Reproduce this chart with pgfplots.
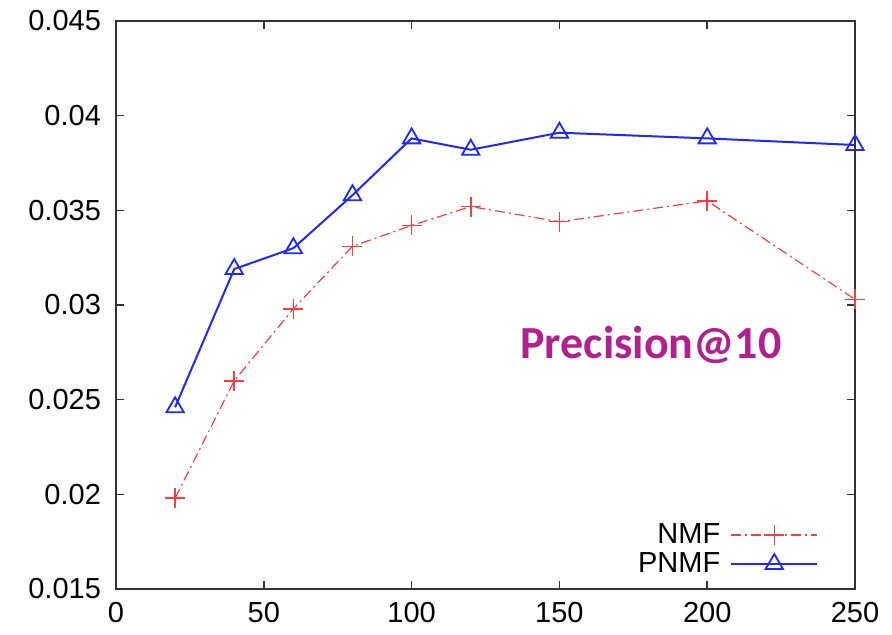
\documentclass[border=0pt]{standalone}
\usepackage{fontspec}
\setmainfont{Liberation Sans}
\newfontfamily\calib{Carlito}
\usepackage{pgfplots}
\pgfplotsset{compat=1.18}
\definecolor{nmfred}{RGB}{255,60,60}
\definecolor{pnmfblue}{RGB}{30,40,255}
\definecolor{labpurple}{RGB}{176,32,143}

\begin{document}
\begin{tikzpicture}
\begin{axis}[scale only axis,width=369.5pt,height=284pt,
  xmin=0,xmax=250,ymin=0.015,ymax=0.045,
  scaled y ticks=false,
  xtick={0,50,100,150,200,250},
  ytick={0.015,0.02,0.025,0.03,0.035,0.04,0.045},
  yticklabels={0.015,0.02,0.025,0.03,0.035,0.04,0.045},
  tick align=inside,major tick length=4pt,
  axis line style={line width=0.8pt,black!80},
  every tick/.style={line width=0.8pt,black!80},
  tick label style={font=\fontsize{14.5}{16}\selectfont},
  yticklabel style={xshift=-4pt},
  xticklabel style={yshift=-3pt},
  /pgf/number format/assume math mode=true,
  legend style={at={(0.959,0.009)},anchor=south east,draw=none,fill=none,
    font=\fontsize{14.5}{16}\selectfont,row sep=-1pt,
    nodes={inner xsep=5pt}},
  legend cell align=right,legend plot pos=right,
  legend image code/.code={\draw[mark repeat=2,mark phase=2]
    plot coordinates {(13.5pt,0pt)(35pt,0pt)(56.5pt,0pt)};},
  clip=false]
\addplot[color=nmfred,line width=0.6pt,dash pattern=on 5pt off 2pt on 1pt off 2pt,
  mark=+,mark size=5pt,mark options={solid,line width=0.8pt}]
  coordinates {(20,0.0198)(40,0.0260)(60,0.0298)(80,0.0331)(100,0.0342)
               (120,0.0352)(150,0.0344)(200,0.0355)(250,0.0303)};
\addplot[color=pnmfblue,line width=1pt,mark=triangle,mark size=5pt,
  mark options={solid,line width=0.9pt}]
  coordinates {(20,0.0246)(40,0.0319)(60,0.0330)(80,0.0358)(100,0.0388)
               (120,0.0382)(150,0.0391)(200,0.0388)(250,0.03845)};
\legend{NMF,PNMF}
\node[font=\calib\bfseries\fontsize{23}{26}\selectfont,text=labpurple]
  at (axis cs:181,0.0279) {Precision@10};
\end{axis}
\path ([shift={(-58pt,-23pt)}]current axis.south west) rectangle
      ([shift={(18.5pt,10.5pt)}]current axis.north east);
\end{tikzpicture}
\end{document}
